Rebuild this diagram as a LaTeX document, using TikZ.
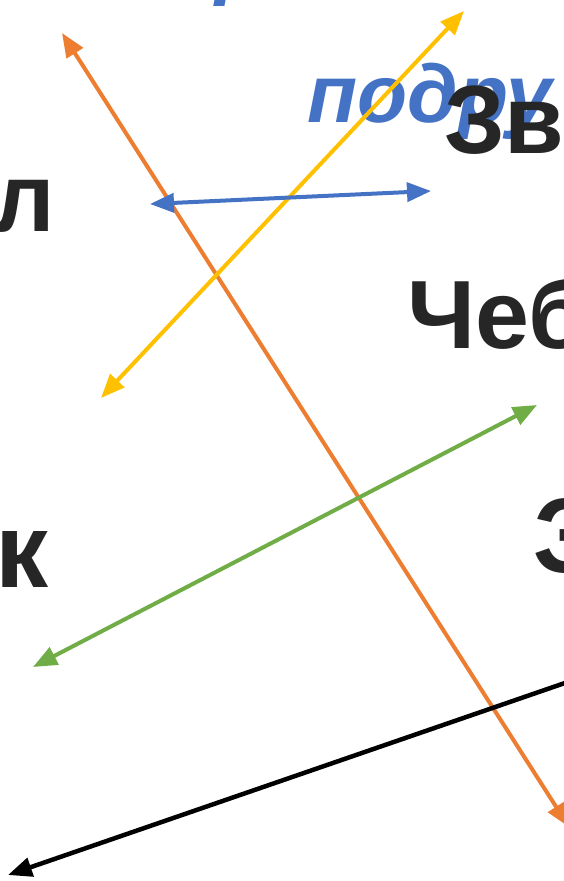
\documentclass[tikz,border=0pt]{standalone}
\usepackage{fontspec}
\setmainfont{Liberation Sans}
\usepackage{xcolor}
\usetikzlibrary{arrows.meta}
\definecolor{wordgray}{HTML}{262626}
\definecolor{wordblue}{HTML}{4472C4}
\definecolor{lineorange}{HTML}{ED7D31}
\definecolor{lineyellow}{HTML}{FFC000}
\definecolor{linegreen}{HTML}{70AD47}

\begin{document}
\begin{tikzpicture}[x=1pt, y=-1pt,
    word/.style={inner sep=0pt, text=wordgray, font=\bfseries\fontsize{97}{97}\selectfont},
    bigword/.style={word, font=\bfseries\fontsize{106}{106}\selectfont},
    blueword/.style={inner sep=0pt, text=wordblue, font=\bfseries\itshape\fontsize{82}{82}\selectfont},
    twoway/.style={line width=4pt, {Triangle[length=24pt,width=19pt]}-{Triangle[length=24pt,width=19pt]}},
    oneway/.style={line width=4.5pt, -{Triangle[length=24pt,width=19pt]}}]
    \useasboundingbox (0,0) rectangle (564,881);
    \clip (0,0) rectangle (564,881);

    % Words
    \node[blueword, anchor=base west] (top) at (215,-11) {р};
    \node[blueword, anchor=base west] (podru) at (307,122) {подру};
    \node[word, anchor=base west] (zv) at (444,153) {Зв};
    \node[word, anchor=base east] (el) at (55,231) {л};
    \node[word, anchor=base west] (cheb) at (407,348) {Чеб};
    \node[bigword, anchor=base west] (ka) at (-5,587) {к};
    \node[bigword, anchor=base west] (ze) at (533,572) {З};

    % Ends of the arrows
    \coordinate (o1) at (62,33);
    \coordinate (o2) at (569,827);
    \coordinate (y1) at (464,11);
    \coordinate (y2) at (101,398);
    \coordinate (b1) at (150,204);
    \coordinate (b2) at (431,191);
    \coordinate (g1) at (537,405);
    \coordinate (g2) at (33,667);
    \coordinate (k1) at (620,664);
    \coordinate (k2) at (8,875);

    % Arrows
    \draw[twoway, lineorange] (o1) -- (o2);
    \draw[twoway, lineyellow] (y1) -- (y2);
    \draw[twoway, wordblue] (b1) -- (b2);
    \draw[twoway, linegreen] (g1) -- (g2);
    \draw[oneway, black] (k1) -- (k2);
\end{tikzpicture}
\end{document}
